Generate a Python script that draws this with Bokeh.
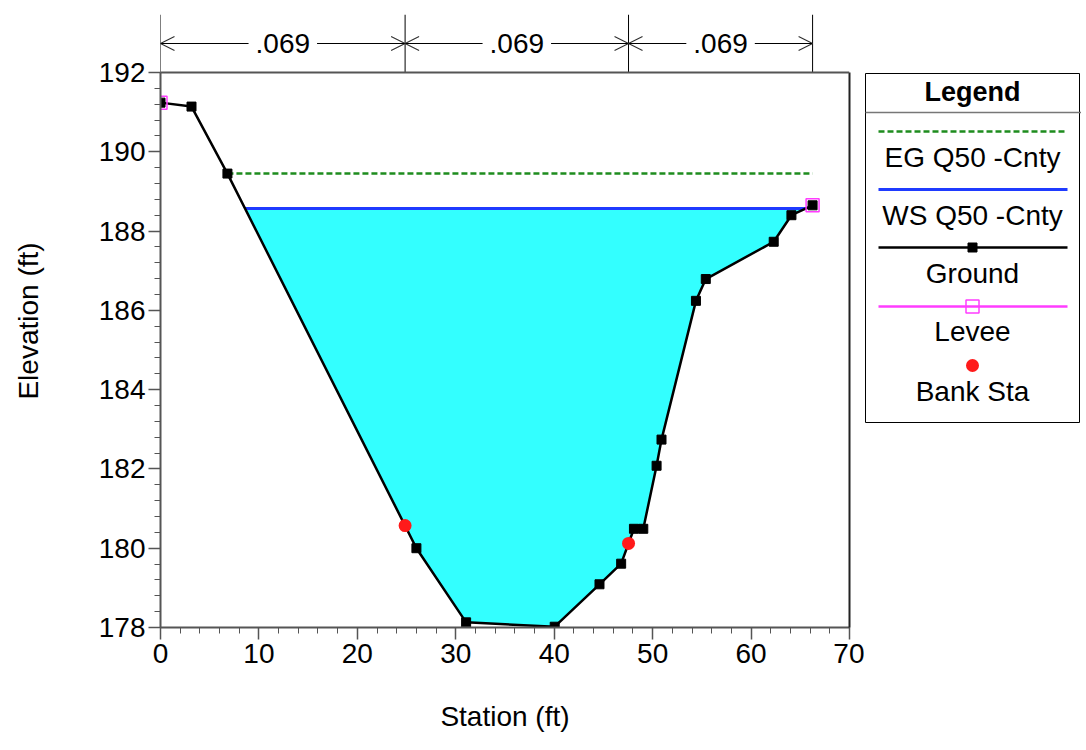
from bokeh.plotting import figure
from bokeh.layouts import row
from bokeh.models import (Range1d, SingleIntervalTicker, FixedTicker, Arrow, OpenHead, Span,
                          ColumnDataSource, LabelSet, LinearAxis)
from bokeh.core.properties import value
from bokeh.embed import file_html
from bokeh.resources import INLINE

# ---------------- data ----------------
station = [0.0, 3.15, 6.8, 26.0, 31.05, 40.05, 44.6, 46.8, 48.1, 49.05,
           50.4, 50.9, 54.4, 55.4, 62.3, 64.1, 66.25]
elevation = [191.24, 191.14, 189.45, 180.0, 178.13, 178.02, 179.09, 179.61,
             180.49, 180.49, 182.08, 182.74, 186.24, 186.79, 187.73, 188.40, 188.65]
levee_station = [0.0, 66.25]
levee_elev = [191.24, 188.65]
bank_station = [24.85, 47.55]
bank_elev = [180.57, 180.12]
ws_elev = 188.57
eg_elev = 189.45
n_values = [".069", ".069", ".069"]
x_limits = [0, 70]
y_limits = [178, 192]
legend_labels = ["EG Q50 -Cnty", "WS Q50 -Cnty", "Ground", "Levee", "Bank Sta"]

FONT = "Liberation Sans"
FS = "28px"
C_FILL = "#33FFFF"
C_WS = "#1f3bff"
C_EG = "#1e8c1e"
C_GROUND = "black"
C_LEVEE = "#ff3cff"
C_BANK = "#ff1a1a"
AX = "#555555"

FRAME_H = 555      # pixels of the elevation part of the frame
STRIP_H = 58       # pixels of the roughness strip above it
TOP_B = 14
BOT_B = 118
HEIGHT = TOP_B + STRIP_H + FRAME_H + BOT_B


def wet_extent(xs, ys, level):
    left = xs[0]
    for i in range(len(xs) - 1):
        if ys[i] >= level > ys[i + 1]:
            left = xs[i] + (ys[i] - level) / (ys[i] - ys[i + 1]) * (xs[i + 1] - xs[i])
            break
    right = xs[-1]
    for i in range(len(xs) - 1, 0, -1):
        if ys[i] >= level > ys[i - 1]:
            right = xs[i - 1] + (level - ys[i - 1]) / (ys[i] - ys[i - 1]) * (xs[i] - xs[i - 1])
            break
    return left, right


ws_l, ws_r = wet_extent(station, elevation, ws_elev)
eg_l, eg_r = wet_extent(station, elevation, eg_elev)
fill_x = [ws_l] + [x for x in station if ws_l < x < ws_r] + [ws_r]
fill_y = [ws_elev] + [y for x, y in zip(station, elevation) if ws_l < x < ws_r] + [ws_elev]

# ---------------- main figure ----------------
y_top = y_limits[1] + (y_limits[1] - y_limits[0]) * STRIP_H / FRAME_H
p = figure(width=864, height=HEIGHT, x_range=Range1d(*x_limits),
           y_range=Range1d(y_limits[0], y_top),
           output_backend="svg", toolbar_location=None,
           min_border_left=160, min_border_right=15, min_border_top=TOP_B,
           min_border_bottom=BOT_B)
p.extra_y_ranges = {"strip": Range1d(-FRAME_H, STRIP_H)}
p.xgrid.visible = False
p.ygrid.visible = False
p.outline_line_color = None

p.xaxis.ticker = SingleIntervalTicker(interval=10, num_minor_ticks=5)
p.yaxis.ticker = SingleIntervalTicker(interval=2, num_minor_ticks=5)
p.yaxis.bounds = tuple(y_limits)
p.xaxis.axis_label = "Station (ft)"
p.yaxis.axis_label = "Elevation (ft)"
for ax in (p.xaxis[0], p.yaxis[0]):
    ax.axis_line_color = AX
    ax.axis_line_width = 2
    ax.major_tick_line_color = AX
    ax.minor_tick_line_color = AX
    ax.major_tick_line_width = 1.5
    ax.major_tick_in = 0
    ax.major_tick_out = 12
    ax.minor_tick_in = 0
    ax.minor_tick_out = 6
    ax.major_label_text_font = FONT
    ax.major_label_text_font_size = FS
    ax.major_label_text_color = "black"
    ax.axis_label_text_font = FONT
    ax.axis_label_text_font_size = FS
    ax.axis_label_text_font_style = "normal"
    ax.axis_label_text_color = "black"
p.xaxis.major_label_standoff = 4
p.xaxis.axis_label_standoff = 35
p.yaxis.major_label_standoff = 3
p.yaxis.axis_label_standoff = 52

right_ax = LinearAxis(bounds=tuple(y_limits), ticker=FixedTicker(ticks=[]),
                      axis_line_color="#222222", axis_line_width=2,
                      major_tick_line_color=None, minor_tick_line_color=None,
                      major_tick_out=0, minor_tick_out=0)
p.add_layout(right_ax, "right")
p.add_layout(Span(location=y_limits[1], dimension="width", line_color=AX, line_width=2))

p.patch(fill_x, fill_y, fill_color=C_FILL, line_color=None)
p.line([eg_l, eg_r], [eg_elev, eg_elev], line_color=C_EG, line_width=2.5, line_dash="6 3")
p.line([ws_l, ws_r], [ws_elev, ws_elev], line_color=C_WS, line_width=3)
p.line(station, elevation, line_color=C_GROUND, line_width=2.5)
p.scatter(station, elevation, marker="square", size=9, fill_color=C_GROUND, line_color=C_GROUND)
p.scatter(levee_station, levee_elev, marker="square", size=13, fill_color=None,
          line_color=C_LEVEE, line_width=1.5)
p.scatter(bank_station, bank_elev, marker="circle", size=13, fill_color=C_BANK, line_color=None)

# ---------------- n-value strip (above the elevation area) ----------------
bounds = [station[0]] + bank_station + [station[-1]]
p.segment(x0=bounds, y0=[0] * len(bounds), x1=bounds, y1=[STRIP_H] * len(bounds),
          line_color="black", line_width=1, y_range_name="strip")
arr_y = STRIP_H / 2
arr_src = ColumnDataSource(dict(x0=bounds[:-1], x1=bounds[1:], y=[arr_y] * len(n_values)))
p.add_layout(Arrow(source=arr_src, x_start="x0", x_end="x1", y_start="y", y_end="y",
                   y_range_name="strip", line_color="black", line_width=1,
                   start=OpenHead(size=14, line_color="#333333", line_width=1.2),
                   end=OpenHead(size=14, line_color="#333333", line_width=1.2)))
lab_src = ColumnDataSource(dict(x=[(a + b) / 2 for a, b in zip(bounds[:-1], bounds[1:])],
                                y=[arr_y] * len(n_values), t=n_values))
p.add_layout(LabelSet(source=lab_src, x="x", y="y", text="t", y_range_name="strip",
                      text_align="center", text_baseline="middle",
                      text_font=value(FONT), text_font_size=value(FS),
                      text_color="black", background_fill_color="white",
                      border_line_color="white", border_line_width=14))

# ---------------- legend box (frame aligned with the main frame) ----------------
LG_H = STRIP_H + FRAME_H
lg = figure(width=217, height=HEIGHT, x_range=Range1d(0, 217), y_range=Range1d(LG_H, 0),
            output_backend="svg", toolbar_location=None,
            min_border_left=0, min_border_right=0, min_border_top=TOP_B,
            min_border_bottom=BOT_B)
lg.axis.visible = False
lg.xgrid.visible = False
lg.ygrid.visible = False
lg.outline_line_color = None
lg.quad(left=[1], right=[215], top=[59], bottom=[408], fill_color=None,
        line_color="black", line_width=1)
lg.text([108], [77], text=["Legend"], text_align="center", text_baseline="middle",
        text_font=value(FONT), text_font_size=value("27px"), text_font_style="bold",
        text_color="black")
lg.line([1, 217], [98, 98], line_color="#777777", line_width=1.5)

line_y = [117, 175, 233, 292]
label_y = [143, 201, 259, 317, 377]
lg.line([14, 203], [line_y[0]] * 2, line_color=C_EG, line_width=2.5, line_dash="6 3")
lg.line([14, 203], [line_y[1]] * 2, line_color=C_WS, line_width=3)
lg.line([14, 203], [line_y[2]] * 2, line_color=C_GROUND, line_width=2.5)
lg.scatter([108], [line_y[2]], marker="square", size=9, fill_color=C_GROUND, line_color=C_GROUND)
lg.line([14, 203], [line_y[3]] * 2, line_color=C_LEVEE, line_width=2.5)
lg.scatter([108], [line_y[3]], marker="square", size=13, fill_color=None,
           line_color=C_LEVEE, line_width=1.5)
lg.scatter([108], [351], marker="circle", size=13, fill_color=C_BANK, line_color=None)
lg.text([108] * len(legend_labels), label_y, text=legend_labels, text_align="center",
        text_baseline="middle", text_font=value(FONT), text_font_size=value(FS),
        text_color="black")

layout = row(p, lg)
open("out.html", "w").write(file_html(layout, INLINE))
